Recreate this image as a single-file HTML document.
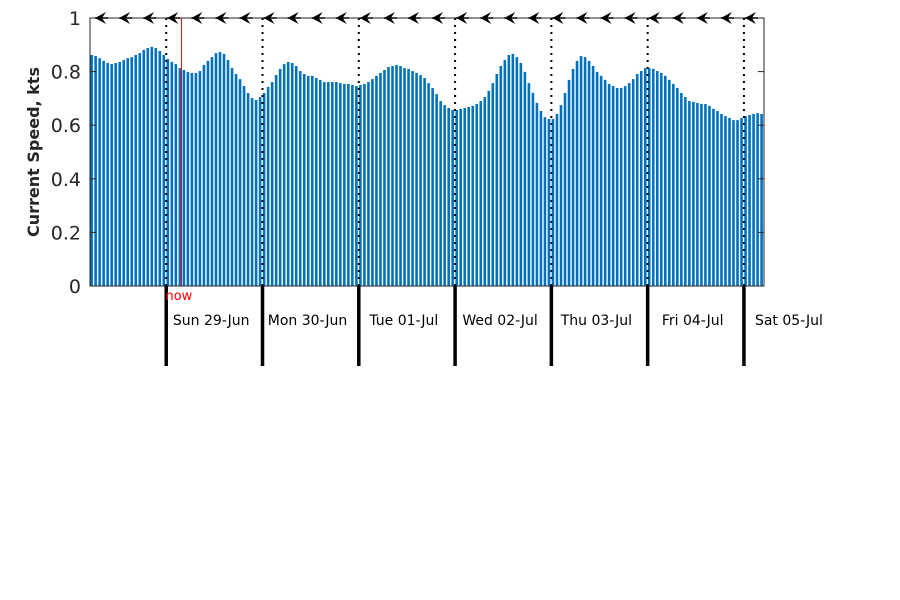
<!DOCTYPE html>
<html><head><meta charset="utf-8"><style>
body{margin:0;background:#fff;}
svg{display:block;font-family:"DejaVu Sans","Liberation Sans",sans-serif;}
</style></head><body>
<svg id="chart" width="900" height="600" viewBox="0 0 900 600"></svg>
<script>
const speeds = [0.862,0.858,0.850,0.840,0.832,0.828,0.832,0.836,0.843,0.850,0.854,0.862,0.869,0.881,0.888,0.892,0.888,0.877,0.862,0.847,0.836,0.828,0.813,0.806,0.799,0.795,0.795,0.802,0.825,0.840,0.854,0.869,0.873,0.866,0.843,0.813,0.791,0.772,0.746,0.720,0.701,0.694,0.705,0.720,0.743,0.761,0.787,0.810,0.828,0.836,0.832,0.821,0.802,0.791,0.784,
0.784,0.776,0.769,0.761,0.761,0.761,0.761,0.757,0.754,0.754,0.750,0.746,0.750,0.754,0.761,0.772,0.784,0.795,0.806,0.817,0.821,0.825,0.821,0.813,0.810,0.802,0.795,0.787,0.776,0.757,0.739,0.716,0.690,0.675,0.664,0.657,0.657,0.661,0.664,0.668,0.672,0.679,0.690,0.705,0.728,0.757,0.791,0.821,0.843,0.862,0.866,0.854,0.832,0.799,0.757,0.721,
0.683,0.653,0.630,0.623,0.623,0.642,0.675,0.720,0.769,0.810,0.840,0.858,0.854,0.840,0.821,0.799,0.784,0.769,0.754,0.746,0.739,0.739,0.746,0.757,0.772,0.791,0.802,0.813,0.813,0.810,0.802,0.795,0.784,0.769,0.754,0.739,0.720,0.705,0.690,0.687,0.683,0.679,0.679,0.672,0.661,0.653,0.642,0.634,0.627,0.619,0.619,0.627,0.634,0.638,0.642,0.645,0.642];
const startHour = 5; // first bar: Sat 28-Jun 05:00
const dayLabels = ["Sun 29-Jun","Mon 30-Jun","Tue 01-Jul","Wed 02-Jul","Thu 03-Jul","Fri 04-Jul","Sat 05-Jul"];
const yTicks = [0,0.2,0.4,0.6,0.8,1];
const yTickLabels = ["0","0.2","0.4","0.6","0.8","1"];
const nowHour = 22.8;
const arrowEveryHours = 6;

const NS="http://www.w3.org/2000/svg";
const svg=document.getElementById('chart');
const L=90,R=764,T=18,B=286;
const hourW=(R-L)/speeds.length;
const x=h=>L+(h+0.4)*hourW;
const y=v=>B-(v/1)*(B-T);
function mk(tag,attrs,parent){const e=document.createElementNS(NS,tag);for(const k in attrs)e.setAttribute(k,attrs[k]);(parent||svg).appendChild(e);return e;}

const bars=mk('g',{});


speeds.forEach((v,i)=>{
  const r=mk('rect',{x:x(i)-1.3,y:y(v),width:2.6,height:B-y(v),fill:'#0072bd'},bars);
  
  
});

const box=mk('rect',{x:L,y:T,width:R-L,height:B-T,fill:'none',stroke:'#262626','stroke-width':1});



yTicks.forEach((t,i)=>{
  mk('line',{x1:L,x2:L+6,y1:y(t),y2:y(t),stroke:'#262626'});
  mk('line',{x1:R-6,x2:R,y1:y(t),y2:y(t),stroke:'#262626'});
  const tx=mk('text',{x:L-9,y:y(t)+7,'text-anchor':'end','font-size':19,fill:'#262626'});
  tx.textContent=yTickLabels[i];
  
  
});
const yt=mk('text',{x:39,y:152,'text-anchor':'middle','font-size':16,'font-weight':'bold',fill:'#262626',transform:'rotate(-90 39 152)'});
yt.textContent='Current Speed, kts';



dayLabels.forEach((d,i)=>{
  const h=24*(i+1)-startHour;
  const xx=L+h*hourW;
  const dl=mk('line',{x1:xx,x2:xx,y1:T,y2:B,stroke:'#000','stroke-width':2,'stroke-dasharray':'2,5'});
  
  
  const tk=mk('line',{x1:xx,x2:xx,y1:B,y2:366,stroke:'#000','stroke-width':3.5});
  
  
  const lb=mk('text',{x:xx+45,y:325,'text-anchor':'middle','font-size':14,fill:'#000'});
  lb.textContent=d;
  
  
});

const nx=L+nowHour*hourW;
const nl=mk('line',{x1:nx,x2:nx,y1:T,y2:B,stroke:'#ff0000','stroke-width':1});


const nt=mk('text',{x:nx-16,y:300,'font-size':13,fill:'#ff0000'});
nt.textContent='now';



for(let h=1;h<speeds.length-3;h+=arrowEveryHours){
  const ax=L+h*hourW+1;
  const g=mk('g',{});
  
  
  mk('line',{x1:ax,x2:ax+13,y1:T,y2:T,stroke:'#000','stroke-width':1.5},g);
  mk('polygon',{points:`${ax},${T} ${ax+11},${T-6} ${ax+7},${T} ${ax+11},${T+6}`,fill:'#000'},g);
}
</script>
</body></html>
